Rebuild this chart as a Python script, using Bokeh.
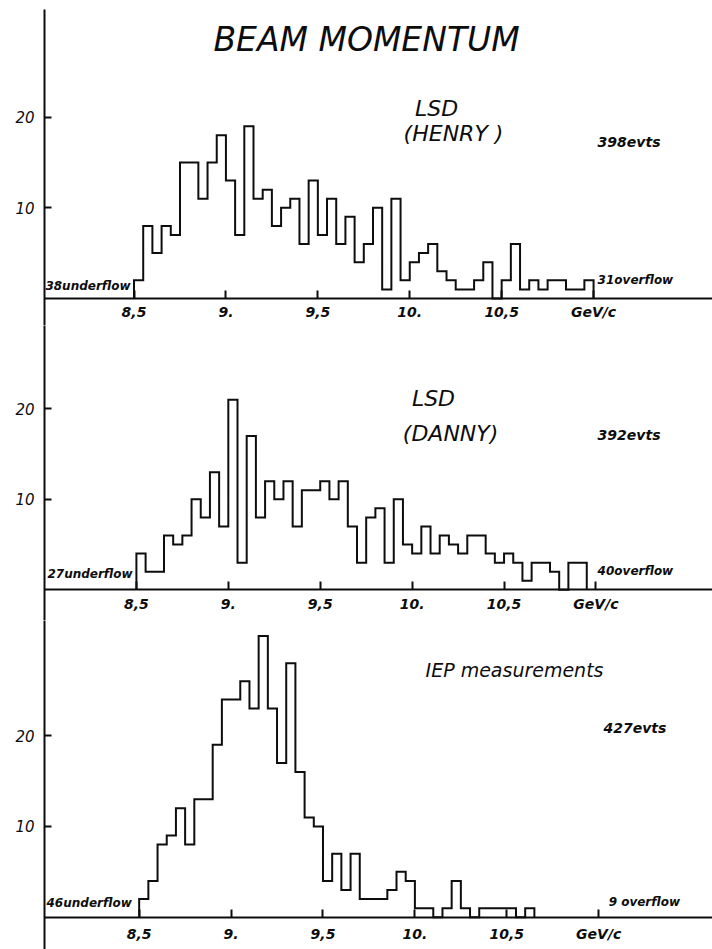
import numpy as np
from bokeh.plotting import figure
from bokeh.layouts import column
from bokeh.models import Label, FixedTicker, Range1d
from bokeh.embed import file_html
from bokeh.resources import INLINE

# ---------------- data ----------------
bin_lo = 8.50          # GeV/c, lower edge of first bin
bin_width = 0.05       # GeV/c

henry_counts = [2, 8, 5, 8, 7, 15, 15, 11, 15, 18, 13, 7, 19, 11, 12, 8, 10, 11, 6, 13,
                7, 11, 6, 9, 4, 6, 10, 1, 11, 2, 4, 5, 6, 3, 2, 1, 1, 2, 4, 0,
                2, 6, 1, 2, 1, 2, 2, 1, 1, 2]
danny_counts = [4, 2, 2, 6, 5, 6, 10, 8, 13, 7, 21, 3, 17, 8, 12, 10, 12, 7, 11, 11,
                12, 10, 12, 7, 3, 8, 9, 3, 10, 5, 4, 7, 4, 6, 5, 4, 6, 6, 4, 3,
                4, 3, 1, 3, 3, 2, 0, 3, 3]
iep_counts = [2, 4, 8, 9, 12, 8, 13, 13, 19, 24, 24, 26, 23, 31, 23, 17, 28, 16, 11, 10,
              4, 7, 3, 7, 2, 2, 2, 3, 5, 4, 1, 1, 0, 1, 4, 1, 0, 1, 1, 1,
              1, 0, 1]

x_ticks = [8.5, 9.0, 9.5, 10.0, 10.5, 11.0]
x_tick_labels = ["8,5", "9.", "9,5", "10.", "10,5", "GeV/c"]
y_ticks = [10, 20]

title_text = "BEAM MOMENTUM"
panel_names = [["LSD", "(HENRY )"], ["LSD", "(DANNY)"], ["IEP measurements"]]
events_text = ["398evts", "392evts", "427evts"]
underflow_text = ["38underflow", "27underflow", "46underflow"]
overflow_text = ["31overflow", "40overflow", "9 overflow"]

FONT = "DejaVu Sans"
INK = "#0d0d0d"
SPAN = 3.634  # GeV shown across the frame


def make_panel(counts, x_start, y_lo, y_hi, height, top=0, standoff=6):
    p = figure(width=712, height=height,
               x_range=Range1d(x_start, x_start + SPAN),
               y_range=Range1d(y_lo, y_hi),
               output_backend="svg", toolbar_location=None,
               min_border=0, min_border_left=44, min_border_top=top)
    p.xgrid.visible = False
    p.ygrid.visible = False
    p.outline_line_color = None
    p.background_fill_color = "white"
    p.border_fill_color = "white"

    xa = p.xaxis[0]
    xa.fixed_location = 0
    xa.ticker = FixedTicker(ticks=x_ticks)
    xa.major_label_overrides = {t: l for t, l in zip(x_ticks, x_tick_labels)}
    xa.minor_tick_line_color = None
    xa.major_tick_in = 8
    xa.major_tick_out = 0
    xa.axis_line_width = 2
    xa.axis_line_color = INK
    xa.major_tick_line_width = 2
    xa.major_tick_line_color = INK
    xa.major_label_standoff = standoff
    xa.major_label_text_font = FONT
    xa.major_label_text_font_style = "bold italic"
    xa.major_label_text_font_size = "14px"
    xa.major_label_text_color = INK

    ya = p.yaxis[0]
    ya.ticker = FixedTicker(ticks=y_ticks)
    ya.minor_tick_line_color = None
    ya.major_tick_in = 7
    ya.major_tick_out = 0
    ya.axis_line_width = 2
    ya.axis_line_color = INK
    ya.major_tick_line_width = 2
    ya.major_tick_line_color = INK
    ya.major_label_standoff = 10
    ya.major_label_text_font = FONT
    ya.major_label_text_font_style = "italic"
    ya.major_label_text_font_size = "15px"
    ya.major_label_text_color = INK

    edges = bin_lo + bin_width * np.arange(len(counts) + 1)
    xs = np.repeat(edges, 2)
    ys = np.concatenate([[0], np.repeat(np.array(counts, dtype=float), 2), [0]])
    p.line(xs, ys, line_color=INK, line_width=2, line_join="miter")
    return p


def add_label(p, x, y, text, size, style="italic", align="left"):
    p.add_layout(Label(x=x, y=y, text=text, text_font=FONT, text_font_style=style,
                       text_font_size=size, text_color=INK, text_align=align,
                       text_baseline="middle"))


# Panel 1 (frame starts 9 px below the top, like the hand-drawn axis)
p1 = make_panel(henry_counts, 8.013, -2.98, 31.86, 325, top=9)
add_label(p1, 9.765, 28.5, title_text, "33px", "italic", "center")
add_label(p1, 10.146, 20.95, panel_names[0][0], "22px", "italic", "center")
add_label(p1, 10.238, 18.19, panel_names[0][1], "22px", "italic", "center")
add_label(p1, 11.022, 17.2, events_text[0], "14px", "bold italic")
add_label(p1, 8.018, 1.43, underflow_text[0], "12px", "bold italic")
add_label(p1, 11.022, 2.09, overflow_text[0], "12px", "bold italic")

# Panel 2
p2 = make_panel(danny_counts, 8.0, -3.39, 29.2, 295)
add_label(p2, 10.116, 21.14, panel_names[1][0], "22px", "italic", "center")
add_label(p2, 10.209, 17.27, panel_names[1][1], "22px", "italic", "center")
add_label(p2, 11.009, 17.05, events_text[1], "14px", "bold italic")
add_label(p2, 8.016, 1.80, underflow_text[1], "12px", "bold italic")
add_label(p2, 11.009, 2.13, overflow_text[1], "12px", "bold italic")

# Panel 3
p3 = make_panel(iep_counts, 7.985, -3.56, 32.7, 329, standoff=9)
add_label(p3, 10.542, 27.2, panel_names[2][0], "19px", "italic", "center")
add_label(p3, 11.026, 20.9, events_text[2], "14px", "bold italic")
add_label(p3, 7.996, 1.52, underflow_text[2], "12px", "bold italic")
add_label(p3, 11.054, 1.63, overflow_text[2], "12px", "bold italic")

layout = column(p1, p2, p3, spacing=0)
open("out.html", "w").write(file_html(layout, INLINE))
